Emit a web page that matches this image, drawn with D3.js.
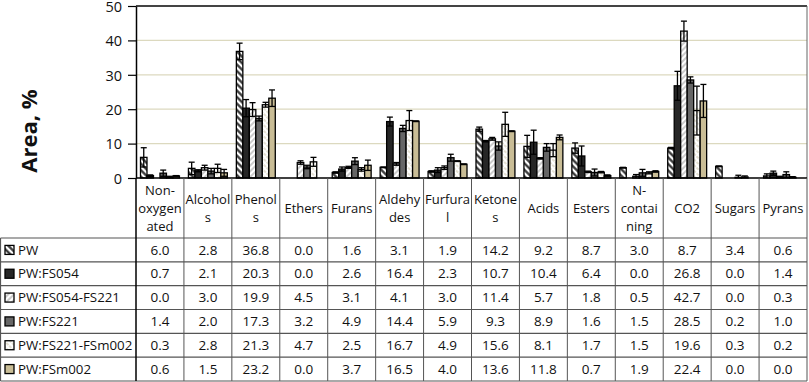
<!DOCTYPE html>
<html>
<head>
<meta charset="utf-8">
<script src="https://cdn.jsdelivr.net/npm/d3@7"></script>
<style>
  body { margin: 0; background: white; }
  svg { display: block; font-family: "Open Sans", sans-serif; }
</style>
</head>
<body>
<svg width="809" height="382"></svg>
<script>
var width = 809, height = 382;

// categories + wrapped header text (as in the table)
var categories = ["Non-oxygenated", "Alcohols", "Phenols", "Ethers", "Furans", "Aldehydes",
  "Furfural", "Ketones", "Acids", "Esters", "N-containing", "CO2", "Sugars", "Pyrans"];
var headerLines = [["Non-", "oxygen", "ated"], ["Alcohol", "s"], ["Phenol", "s"], ["Ethers"], ["Furans"],
  ["Aldehy", "des"], ["Furfura", "l"], ["Ketone", "s"], ["Acids"], ["Esters"], ["N-", "contai", "ning"],
  ["CO2"], ["Sugars"], ["Pyrans"]];

var series = ["PW", "PW:FS054", "PW:FS054-FS221", "PW:FS221", "PW:FS221-FSm002", "PW:FSm002"];

var valPW        = [6.0, 2.8, 36.8, 0.0, 1.6, 3.1, 1.9, 14.2, 9.2, 8.7, 3.0, 8.7, 3.4, 0.6];
var valFS054     = [0.7, 2.1, 20.3, 0.0, 2.6, 16.4, 2.3, 10.7, 10.4, 6.4, 0.0, 26.8, 0.0, 1.4];
var valFS054_221 = [0.0, 3.0, 19.9, 4.5, 3.1, 4.1, 3.0, 11.4, 5.7, 1.8, 0.5, 42.7, 0.0, 0.3];
var valFS221     = [1.4, 2.0, 17.3, 3.2, 4.9, 14.4, 5.9, 9.3, 8.9, 1.6, 1.5, 28.5, 0.2, 1.0];
var valFS221_m002 = [0.3, 2.8, 21.3, 4.7, 2.5, 16.7, 4.9, 15.6, 8.1, 1.7, 1.5, 19.6, 0.3, 0.2];
var valFSm002    = [0.6, 1.5, 23.2, 0.0, 3.7, 16.5, 4.0, 13.6, 11.8, 0.7, 1.9, 22.4, 0.0, 0.0];

// error bars
var errPW        = [2.8, 1.8, 2.4, 0, 0.2, 0.1, 0.2, 0.6, 3.2, 1.5, 0.1, 0.2, 0.1, 0.6];
var errFS054     = [0.2, 0.3, 2.5, 0, 0.6, 1.3, 0.7, 0.2, 3.5, 2.9, 0, 4.2, 0, 0.6];
var errFS054_221 = [0, 0.7, 2.0, 0.5, 0.3, 0.4, 0.5, 0.4, 0.2, 0.2, 0.5, 2.9, 0, 0.2];
var errFS221     = [0.9, 0.8, 0.7, 0.5, 1.0, 0.9, 1.0, 1.2, 1.1, 1.0, 1.0, 0.9, 0.6, 0.8];
var errFS221_m002 = [0.2, 1.2, 0.7, 1.3, 0.5, 2.9, 0.1, 3.5, 1.9, 0.2, 0.3, 7.1, 0.3, 0.2];
var errFSm002    = [0.1, 1.0, 2.4, 0, 1.5, 0.1, 0.1, 0.1, 0.7, 0.2, 0.2, 4.8, 0, 0];

var values = [valPW, valFS054, valFS054_221, valFS221, valFS221_m002, valFSm002];
var errors = [errPW, errFS054, errFS054_221, errFS221, errFS221_m002, errFSm002];

var yTicks = [0, 10, 20, 30, 40, 50];

var svg = d3.select('svg');

var left = 136, right = 807, plotTop = 6, base = 178;
var rowTop = 238, rowH = 23.83;

var x = d3.scaleBand().domain(categories).range([left, right]);
var xs = d3.scaleBand().domain(series).range([4.5, x.bandwidth() - 4.5]);
var y = d3.scaleLinear().domain([0, 50]).range([base, plotTop]);

// fills / hatch patterns
var defs = svg.append('defs');
function hatch(id, bg, stroke, sw, size, angle, dash) {
  var p = defs.append('pattern')
    .attr('id', id)
    .attr('patternUnits', 'userSpaceOnUse')
    .attr('width', size).attr('height', size)
    .attr('patternTransform', 'rotate(' + angle + ')');
  p.append('rect').attr('width', size).attr('height', size).attr('fill', bg);
  var l = p.append('line')
    .attr('x1', size / 2).attr('x2', size / 2)
    .attr('y1', 0).attr('y2', size)
    .attr('stroke', stroke).attr('stroke-width', sw);
  if (dash) l.attr('stroke-dasharray', dash);
}
hatch('pPW', 'white', '#2e2e2e', 2.2, 4.6, -45);
hatch('pFS054_221', 'white', '#9a9a9a', 1, 4, 45);
hatch('pFS221_m002', 'white', '#c9c2a4', 1, 4, -45, '2,1');

var fills = ['url(#pPW)', '#262626', 'url(#pFS054_221)', '#666666', 'url(#pFS221_m002)', '#c9bd96'];

// gridlines
svg.append('g').selectAll('line')
  .data(yTicks.filter(function(d) { return d > 0 && d < 50; }))
  .enter().append('line')
  .attr('x1', left).attr('x2', right)
  .attr('y1', function(d) { return y(d); })
  .attr('y2', function(d) { return y(d); })
  .attr('stroke', '#dcd9bf')
  .attr('stroke-width', 1.3);

// top + right frame of the plot
svg.append('line').attr('x1', left).attr('x2', right).attr('y1', plotTop).attr('y2', plotTop)
  .attr('stroke', '#444').attr('stroke-width', 2);
svg.append('line').attr('x1', right).attr('x2', right).attr('y1', plotTop).attr('y2', base)
  .attr('stroke', '#666').attr('stroke-width', 1);

// bars
var bars = [];
categories.forEach(function(c, ci) {
  series.forEach(function(s, si) {
    bars.push({ cat: c, ser: s, si: si, v: values[si][ci], e: errors[si][ci] });
  });
});

var gBars = svg.append('g');
gBars.selectAll('.bar')
  .data(bars.filter(function(d) { return d.v > 0; }))
  .enter().append('rect')
  .attr('class', 'bar')
  .attr('x', function(d) { return x(d.cat) + xs(d.ser); })
  .attr('y', function(d) { return y(d.v); })
  .attr('width', xs.bandwidth())
  .attr('height', function(d) { return base - y(d.v); })
  .attr('fill', function(d) { return fills[d.si]; })
  .attr('stroke', 'black')
  .attr('stroke-width', 1.3);

// error bars
var gErr = svg.append('g').attr('stroke', 'black').attr('stroke-width', 1.3);
var withErr = bars.filter(function(d) { return d.e > 0 && d.v > 0; });
var cx = function(d) { return x(d.cat) + xs(d.ser) + xs.bandwidth() / 2; };
gErr.selectAll('.stem').data(withErr).enter().append('line')
  .attr('x1', cx).attr('x2', cx)
  .attr('y1', function(d) { return y(Math.max(0, d.v - d.e)); })
  .attr('y2', function(d) { return y(d.v + d.e); });
gErr.selectAll('.capTop').data(withErr).enter().append('line')
  .attr('x1', function(d) { return cx(d) - 3; }).attr('x2', function(d) { return cx(d) + 3; })
  .attr('y1', function(d) { return y(d.v + d.e); })
  .attr('y2', function(d) { return y(d.v + d.e); });
gErr.selectAll('.capBot').data(withErr.filter(function(d) { return d.v - d.e > 0; })).enter().append('line')
  .attr('x1', function(d) { return cx(d) - 3; }).attr('x2', function(d) { return cx(d) + 3; })
  .attr('y1', function(d) { return y(d.v - d.e); })
  .attr('y2', function(d) { return y(d.v - d.e); });

// y axis
var yAxis = d3.axisLeft(y).tickValues(yTicks).tickSizeOuter(0).tickSizeInner(8).tickPadding(6);
var gy = svg.append('g').attr('transform', 'translate(' + left + ',0)').call(yAxis);
gy.select('.domain').attr('stroke', 'black').attr('stroke-width', 1.5);
gy.selectAll('.tick line').attr('stroke', 'black').attr('stroke-width', 1.2);
gy.selectAll('.tick text').style('font-size', '14.5px').style('font-family', '"Open Sans", sans-serif')
  .attr('fill', '#111').attr('dy', '0.36em');

svg.append('text')
  .attr('transform', 'translate(37,131)rotate(-90)')
  .attr('text-anchor', 'middle')
  .style('font-size', '22px').style('font-weight', 'bold')
  .attr('fill', '#111')
  .text('Area, %');

/* ---- data table ---- */
var gT = svg.append('g');
var tableBottom = rowTop + rowH * series.length;
var lineColor = '#555';

// horizontal rules
gT.append('line').attr('x1', left).attr('x2', right).attr('y1', base).attr('y2', base)
  .attr('stroke', 'black').attr('stroke-width', 1.5);
gT.selectAll('.hrule').data(d3.range(series.length + 1)).enter().append('line')
  .attr('x1', 0.5).attr('x2', right)
  .attr('y1', function(i) { return rowTop + i * rowH; })
  .attr('y2', function(i) { return rowTop + i * rowH; })
  .attr('stroke', lineColor).attr('stroke-width', 1.2);

// vertical rules
gT.selectAll('.vrule').data(categories.concat(['end'])).enter().append('line')
  .attr('x1', function(c, i) { return i < categories.length ? x(c) : right; })
  .attr('x2', function(c, i) { return i < categories.length ? x(c) : right; })
  .attr('y1', base).attr('y2', tableBottom)
  .attr('stroke', function(c, i) { return i == 0 ? 'black' : lineColor; })
  .attr('stroke-width', function(c, i) { return i == 0 ? 1.5 : 1; });
gT.append('line').attr('x1', 0.5).attr('x2', 0.5).attr('y1', rowTop).attr('y2', tableBottom)
  .attr('stroke', lineColor).attr('stroke-width', 1.2);

// header text
var headY = 208;
var lineH = 18;
categories.forEach(function(c, ci) {
  var lines = headerLines[ci];
  var t = gT.append('text')
    .attr('text-anchor', 'middle')
    .style('font-size', '13px')
    .attr('fill', '#111');
  lines.forEach(function(l, li) {
    t.append('tspan')
      .attr('x', x(c) + x.bandwidth() / 2)
      .attr('y', headY + (li - (lines.length - 1) / 2) * lineH)
      .attr('dy', '0.35em')
      .text(l);
  });
});

// legend keys + names
series.forEach(function(s, si) {
  var cy = rowTop + rowH * (si + 0.5);
  gT.append('rect')
    .attr('x', 5).attr('y', cy - 4.5)
    .attr('width', 9).attr('height', 9)
    .attr('fill', fills[si]).attr('stroke', 'black').attr('stroke-width', 1.3);
  gT.append('text')
    .attr('x', 18).attr('y', cy).attr('dy', '0.35em')
    .style('font-size', '13.3px').attr('fill', '#111')
    .text(s);
});

// cell values
gT.selectAll('.cell').data(bars).enter().append('text')
  .attr('x', function(d) { return x(d.cat) + x.bandwidth() / 2; })
  .attr('y', function(d) { return rowTop + rowH * (d.si + 0.5); })
  .attr('dy', '0.35em')
  .attr('text-anchor', 'middle')
  .style('font-size', '13.5px').attr('fill', '#111')
  .text(function(d) { return d.v.toFixed(1); });
</script>
</body>
</html>
